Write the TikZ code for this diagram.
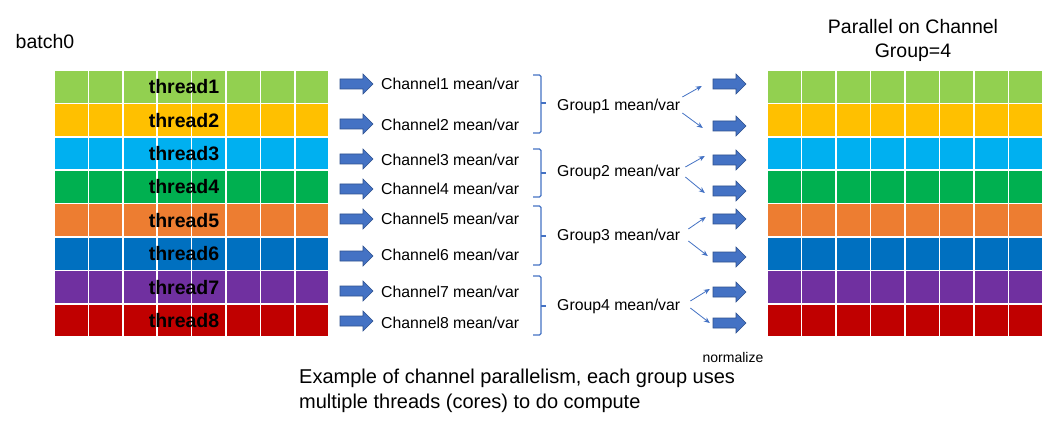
\documentclass[tikz,border=0pt]{standalone}
\usepackage{fontspec}
\setmainfont{Liberation Sans}
\usetikzlibrary{arrows.meta}
\definecolor{c1}{HTML}{92D050}
\definecolor{c2}{HTML}{FFC000}
\definecolor{c3}{HTML}{00B0F0}
\definecolor{c4}{HTML}{00B050}
\definecolor{c5}{HTML}{ED7D31}
\definecolor{c6}{HTML}{0070C0}
\definecolor{c7}{HTML}{7030A0}
\definecolor{c8}{HTML}{C00000}
\definecolor{ablue}{HTML}{4472C4}
\definecolor{aedge}{HTML}{2F528F}
\newcommand{\blockarrowat}[3]{%
  \node[inner sep=0pt,minimum width=33pt,minimum height=20pt] (#1) at (#2,#3) {};
  \begin{scope}[shift={(#2,#3)}]
    \filldraw[fill=ablue,draw=aedge,line width=0.6pt,line join=miter]
      (-16.5,-5) -- (6.5,-5) -- (6.5,-10) -- (16.5,0) -- (6.5,10) -- (6.5,5) -- (-16.5,5) -- cycle;
  \end{scope}}
\begin{document}
\begin{tikzpicture}[x=1pt,y=-1pt,
  cell/.style={draw=white,line width=1.6pt},
  threadlbl/.style={font=\fontsize{19.5}{22}\selectfont\bfseries,text=black,inner sep=0pt},
  lbl/.style={font=\fontsize{15.8}{18}\selectfont,anchor=west,inner sep=0pt,text height=11.4pt,text depth=0pt},
  thinarrow/.style={ablue,line width=0.8pt,-{Stealth[length=6pt,width=5pt]}},
  brk/.style={ablue,line width=1.2pt,rounded corners=1.5pt}
]
\useasboundingbox (0,0) rectangle (1064,438);
\fill[white] (0,0) rectangle (1064,438);

% grids
\foreach \r/\c in {1/c1,2/c2,3/c3,4/c4,5/c5,6/c6,7/c7,8/c8}{
  \foreach \k in {0,...,7}{
    \filldraw[cell,fill=\c] ({54+\k*34.4},{70+(\r-1)*33.4}) rectangle +(34.4,33.4);
    \filldraw[cell,fill=\c] ({767+\k*34.5},{70+(\r-1)*33.4}) rectangle +(34.5,33.4);
  }
  \node[threadlbl] (t\r) at (184,{70+(\r-0.5)*33.4}) {thread\r};
}

% titles
\node[font=\fontsize{19.5}{22}\selectfont,inner sep=0pt] (batch) at (45,42) {batch0};
\node[font=\fontsize{19.5}{24}\selectfont,align=center,inner sep=0pt] (title) at (913,40) {Parallel on Channel\\Group=4};

% left block arrows and channel labels
\foreach \i/\ya/\yt in {1/84/84,2/124/125,3/159/160,4/189/189,5/219/219,6/256/255,7/291/292,8/321/323}{
  \blockarrowat{la\i}{356.5}{\ya}
  \node[lbl] (ch\i) at (381,\yt) {Channel\i\ mean/var};
}

% right block arrows
\foreach \i/\ya in {1/84,2/126,3/160,4/191,5/219,6/257,7/292,8/323}{
  \blockarrowat{ra\i}{729.5}{\ya}
}

% brackets
\foreach \g/\ya/\yb/\ym in {1/75/133/103,2/149/197/173,3/206/265/236,4/276/335/306}{
  \draw[brk] (533,\ya) -- (541,\ya) -- (541,\yb) -- (533,\yb);
  \draw[ablue,line width=1.2pt] (541,\ym) -- (546,\ym);
}

% group labels
\node[lbl] (g1) at (557,105) {Group1 mean/var};
\node[lbl] (g2) at (557,171) {Group2 mean/var};
\node[lbl] (g3) at (557,235) {Group3 mean/var};
\node[lbl] (g4) at (557,305) {Group4 mean/var};

% thin arrows
\draw[thinarrow] ([xshift=2pt,yshift=8pt]g1.east) -- ([xshift=-11pt,yshift=-2pt]ra1.west);
\draw[thinarrow] ([xshift=2pt,yshift=-8pt]g1.east) -- ([xshift=-10pt,yshift=-2pt]ra2.west);
\draw[thinarrow] ([xshift=5pt,yshift=4pt]g2.east) -- ([xshift=-8pt,yshift=4pt]ra3.west);
\draw[thinarrow] ([xshift=5pt,yshift=-6pt]g2.east) -- ([xshift=-8pt,yshift=-2pt]ra4.west);
\draw[thinarrow] ([xshift=8pt,yshift=6pt]g3.east) -- ([xshift=-7pt,yshift=2pt]ra5.west);
\draw[thinarrow] ([xshift=8pt,yshift=-6pt]g3.east) -- ([xshift=-5pt,yshift=1pt]ra6.west);
\draw[thinarrow] ([xshift=10pt,yshift=4pt]g4.east) -- ([xshift=-3pt,yshift=3pt]ra7.west);
\draw[thinarrow] ([xshift=10pt,yshift=-3pt]g4.east) -- ([xshift=-3pt,yshift=0pt]ra8.west);

% bottom texts
\node[font=\fontsize{14}{16}\selectfont,inner sep=0pt] (norm) at (733,357) {normalize};
\node[font=\fontsize{20}{25}\selectfont,align=left,anchor=west,inner sep=0pt] (cap) at (299,391) {Example of channel parallelism, each group uses\\multiple threads (cores) to do compute};
\end{tikzpicture}
\end{document}
